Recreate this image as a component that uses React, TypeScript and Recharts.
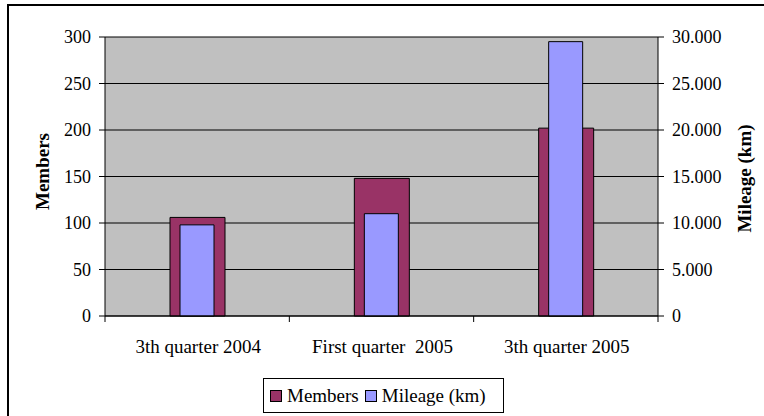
import { BarChart, Bar, XAxis, YAxis, CartesianGrid } from "recharts";

const periods = ["3th quarter 2004", "First quarter  2005", "3th quarter 2005"];
const members = [106, 148, 202];
const mileage = [9800, 11000, 29500];
const memberTicks = [0, 50, 100, 150, 200, 250, 300];
const mileageTicks = [0, 5000, 10000, 15000, 20000, 25000, 30000];

const data = periods.map((p, i) => ({
  period: p,
  members: members[i],
  mileage: mileage[i],
}));

const FONT = "'Liberation Serif', 'Times New Roman', serif";
const MAROON = "#993366";
const LILAC = "#9999FF";

const PLOT_LEFT = 105;
const PLOT_RIGHT = 658;
const BAND = (PLOT_RIGHT - PLOT_LEFT) / periods.length;

function CategoryTick(props: any) {
  const { x, y, payload, index } = props;
  return (
    <g>
      <line x1={x - BAND / 2} y1={y} x2={x - BAND / 2} y2={y + 6} stroke="#000" />
      {index === periods.length - 1 && (
        <line x1={x + BAND / 2} y1={y} x2={x + BAND / 2} y2={y + 6} stroke="#000" />
      )}
      <text
        x={x + 1}
        y={y + 37}
        textAnchor="middle"
        fill="#000"
        style={{ fontFamily: FONT, fontSize: 19, whiteSpace: "pre" }}
      >
        {payload.value}
      </text>
    </g>
  );
}

const fmtKm = (v: number) =>
  v === 0 ? "0" : `${Math.floor(v / 1000)}.${String(v % 1000).padStart(3, "0")}`;

function LegendBox() {
  const item = (color: string, label: string) => (
    <span style={{ display: "inline-flex", alignItems: "center", marginRight: 6 }}>
      <span
        style={{
          display: "inline-block",
          width: 10,
          height: 10,
          background: color,
          border: "1px solid #000",
          marginRight: 5,
        }}
      />
      {label}
    </span>
  );
  return (
    <div
      style={{
        position: "absolute",
        left: 263,
        top: 378,
        width: 233,
        height: 33,
        border: "1px solid #000",
        background: "#fff",
        fontFamily: FONT,
        fontSize: 19,
        display: "flex",
        alignItems: "center",
        paddingLeft: 6,
        boxSizing: "content-box",
        color: "#000",
      }}
    >
      {item(MAROON, "Members")}
      {item(LILAC, "Mileage (km)")}
    </div>
  );
}

export default function App() {
  const tickStyle = { fill: "#000", fontSize: 18, fontFamily: FONT };
  return (
    <div
      style={{
        position: "absolute",
        left: 0,
        top: 0,
        width: 764,
        height: 416,
        overflow: "hidden",
        background: "#fff",
      }}
    >
      <div
        style={{
          position: "absolute",
          left: 7,
          top: 4,
          width: 800,
          height: 500,
          border: "2px solid #000",
        }}
      />
      <BarChart
        width={764}
        height={416}
        data={data}
        margin={{ top: 37, right: 0, bottom: 60, left: 0 }}
      >
        <CartesianGrid
          xAxisId="a"
          yAxisId="left"
          vertical={false}
          stroke="#000"
          fill="#C0C0C0"
          fillOpacity={1}
        />
        <XAxis
          xAxisId="a"
          dataKey="period"
          height={40}
          tickLine={false}
          tickSize={0}
          tickMargin={0}
          axisLine={{ stroke: "#000" }}
          tick={<CategoryTick />}
          interval={0}
        />
        <XAxis xAxisId="b" dataKey="period" hide />
        <YAxis
          yAxisId="left"
          domain={[0, 300]}
          ticks={memberTicks}
          width={105}
          tickSize={6}
          tickMargin={8}
          tick={tickStyle}
          axisLine={{ stroke: "#000" }}
          tickLine={{ stroke: "#000" }}
          label={{
            value: "Members",
            angle: -90,
            position: "center",
            dx: -10,
            dy: -5,
            style: { fontFamily: FONT, fontSize: 19, fontWeight: 700, fill: "#000" },
          }}
        />
        <YAxis
          yAxisId="right"
          orientation="right"
          domain={[0, 30000]}
          ticks={mileageTicks}
          width={106}
          tickSize={6}
          tickMargin={8}
          tick={tickStyle}
          tickFormatter={fmtKm}
          axisLine={{ stroke: "#000" }}
          tickLine={{ stroke: "#000" }}
          label={{
            value: "Mileage (km)",
            angle: -90,
            position: "center",
            dx: 33,
            dy: 2,
            style: { fontFamily: FONT, fontSize: 19, fontWeight: 700, fill: "#000" },
          }}
        />
        <Bar
          xAxisId="a"
          yAxisId="left"
          dataKey="members"
          name="Members"
          fill={MAROON}
          stroke="#000"
          strokeWidth={1}
          barSize={55}
          isAnimationActive={false}
        />
        <Bar
          xAxisId="b"
          yAxisId="right"
          dataKey="mileage"
          name="Mileage (km)"
          fill={LILAC}
          stroke="#000"
          strokeWidth={1}
          barSize={34}
          isAnimationActive={false}
        />
      </BarChart>
      <LegendBox />
    </div>
  );
}
